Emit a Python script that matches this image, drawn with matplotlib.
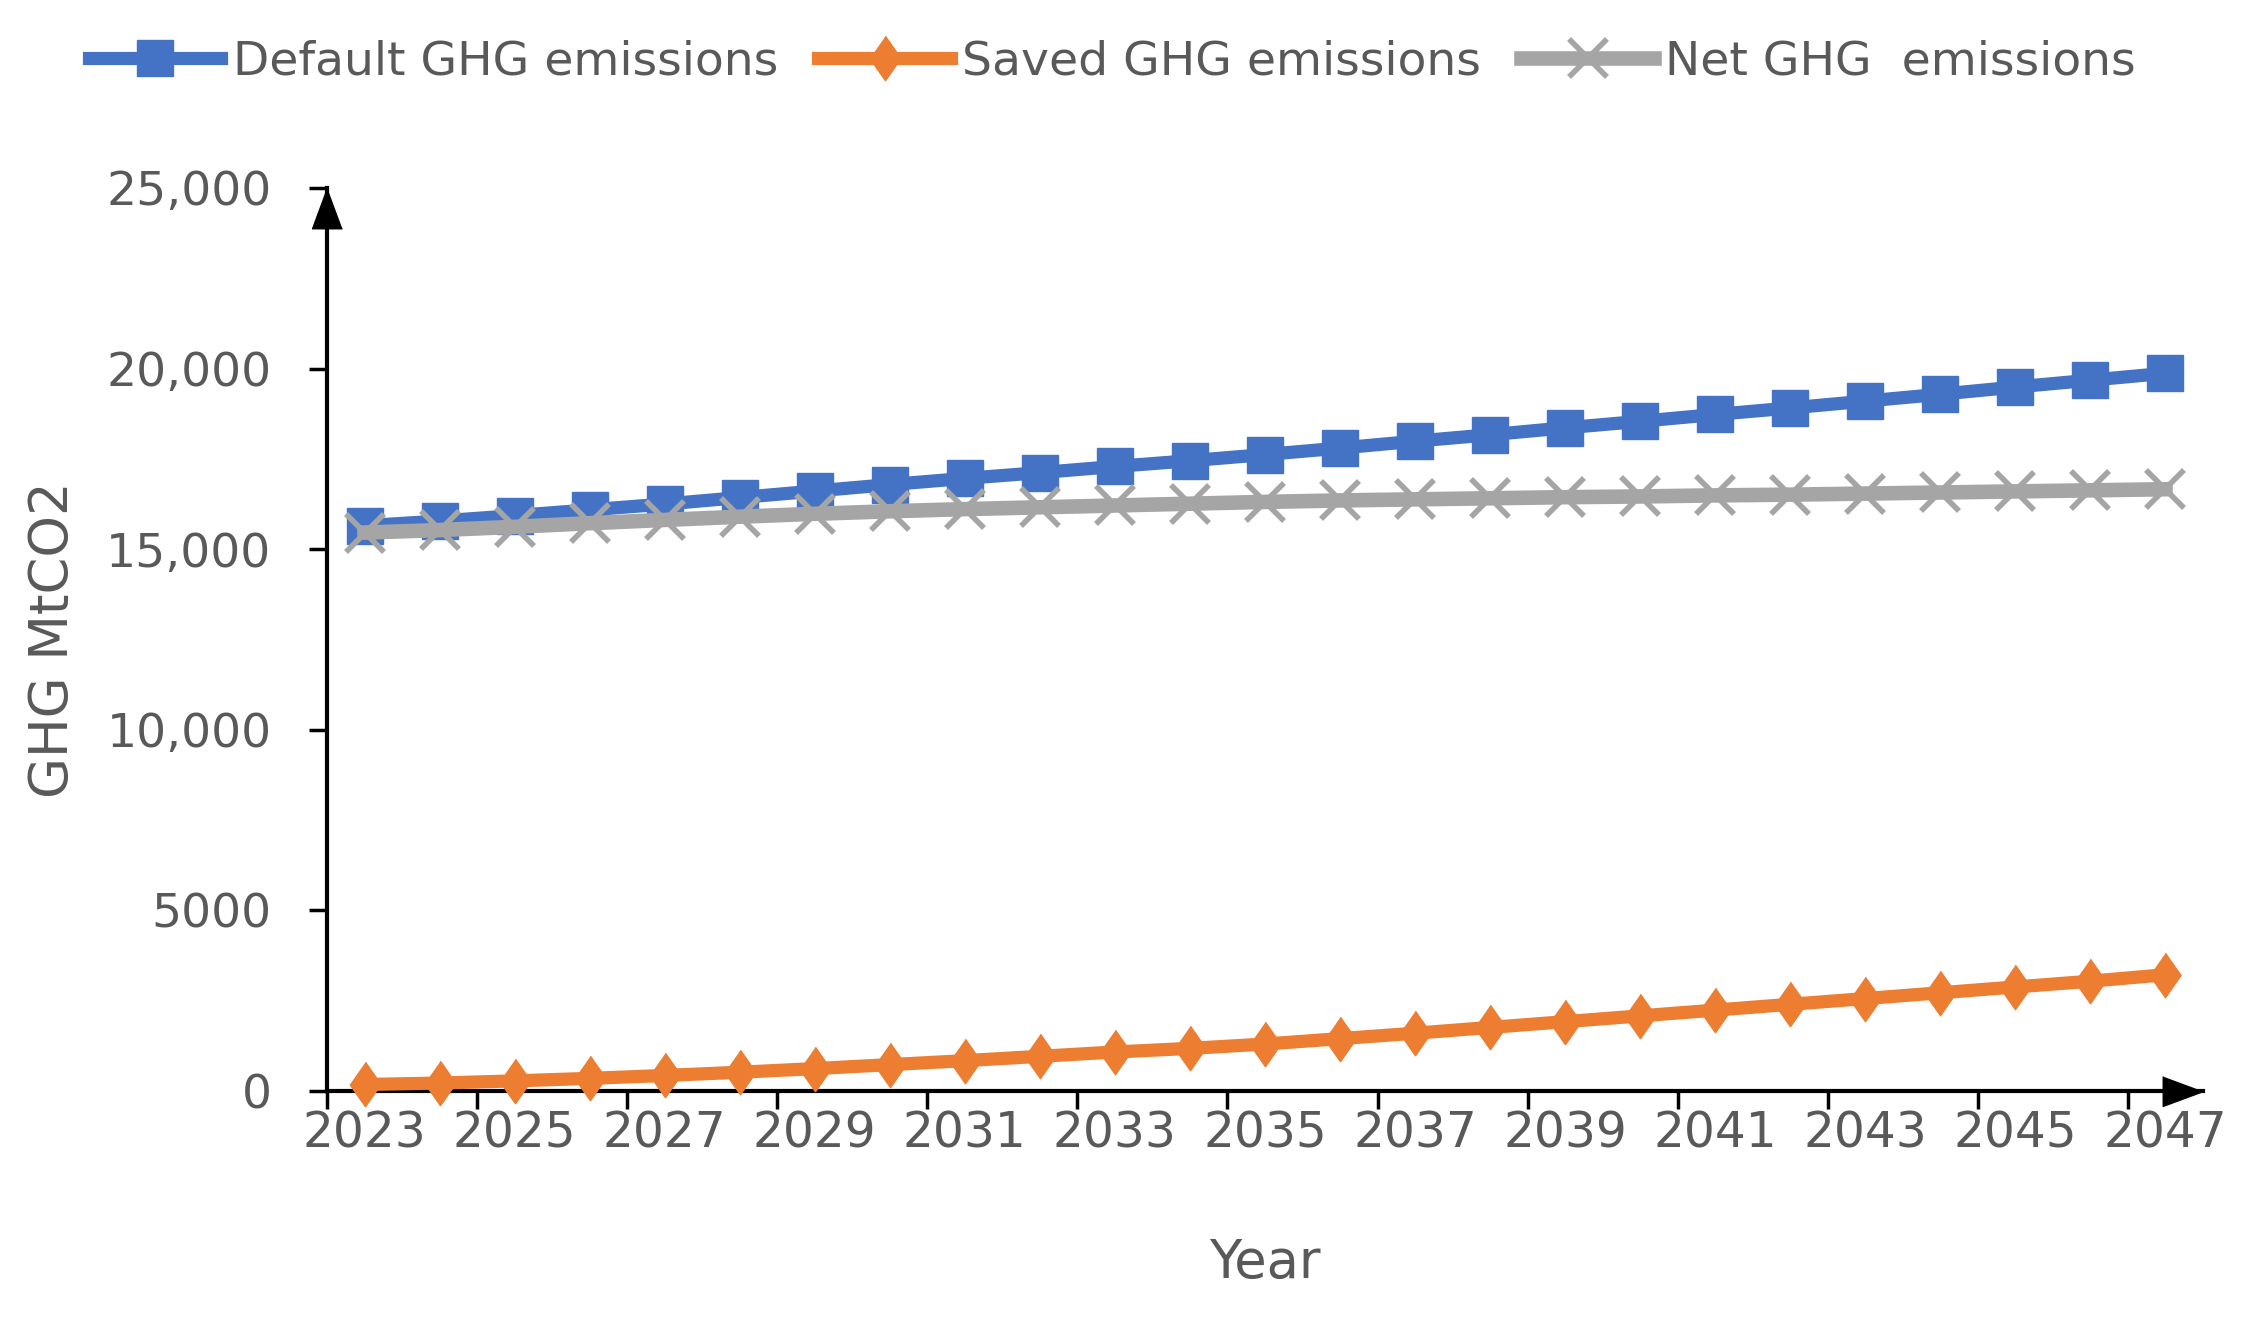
import matplotlib
matplotlib.use('Agg')
import matplotlib.pyplot as plt
import numpy as np

years = list(range(2023, 2048))
default_ghg = [15650, 15780, 15930, 16090, 16250, 16430, 16610, 16790, 16960, 17120,
               17290, 17450, 17620, 17800, 17990, 18170, 18360, 18540, 18730, 18910,
               19100, 19290, 19490, 19680, 19870]
saved_ghg = [180, 220, 280, 350, 430, 520, 620, 730, 840, 960,
             1080, 1180, 1300, 1450, 1600, 1760, 1920, 2080, 2240, 2400,
             2560, 2720, 2880, 3040, 3220]
net_ghg = [15460, 15530, 15620, 15720, 15810, 15900, 15980, 16050, 16110, 16160,
           16210, 16260, 16310, 16350, 16380, 16410, 16440, 16460, 16490, 16510,
           16540, 16570, 16600, 16630, 16660]
ytick_vals = [0, 5000, 10000, 15000, 20000, 25000]
ytick_labels = ['0', '5000', '10,000', '15,000', '20,000', '25,000']

blue = '#4472C4'
orange = '#ED7D31'
gray = '#A5A5A5'
txt = '#595959'

plt.rcParams['font.family'] = ['DejaVu Sans']

W, H = 2248, 1323
fig = plt.figure(figsize=(W / 100, H / 100), dpi=100)
ax = fig.add_axes([327 / W, 232 / H, (2203 - 327) / W, (1091 - 188) / H])

x = np.arange(len(years)) + 0.5
lw = 9.5
ax.plot(x, default_ghg, color=blue, lw=lw, marker='s', ms=26,
        label='Default GHG emissions', zorder=3, clip_on=False)
diamond = [(0, 1), (0.7, 0), (0, -1), (-0.7, 0)]
ax.plot(x, saved_ghg, color=orange, lw=lw, marker=diamond, ms=32,
        label='Saved GHG emissions', zorder=4, clip_on=False)
ax.plot(x, net_ghg, color=gray, lw=10.5, marker='x', ms=28, mew=4,
        label='Net GHG  emissions', zorder=5, clip_on=False)

ax.set_xlim(0, len(years))
ax.set_ylim(0, 25000)

ax.spines['top'].set_visible(False)
ax.spines['right'].set_visible(False)
for s in ('left', 'bottom'):
    ax.spines[s].set_linewidth(3)
    ax.spines[s].set_color('black')

# arrow heads on the axes
ax.plot(len(years), 0, marker=[(0, 0), (-1.35, -0.5), (-1.35, 0.5)], ms=58,
        color='black', clip_on=False, zorder=6)
ax.plot(0, 25000, marker=[(0, 0), (-0.5, -1.35), (0.5, -1.35)], ms=58,
        color='black', clip_on=False, zorder=6)

ax.set_xticks(np.arange(0, len(years), 2))
ax.set_xticks(x[::2], minor=True)
ax.set_xticklabels([])
ax.set_xticklabels([str(y) for y in years[::2]], minor=True)
ax.tick_params(axis='x', which='major', length=13, width=2.5, direction='out', color='black')
ax.tick_params(axis='x', which='minor', length=0, pad=13, labelsize=35, labelcolor=txt)

ax.set_yticks(ytick_vals)
ax.set_yticklabels(ytick_labels)
ax.tick_params(axis='y', length=13, width=2.5, direction='out', color='black',
               pad=27, labelsize=34, labelcolor=txt)

ax.set_ylabel('GHG MtCO2', fontsize=38, color=txt)
ax.yaxis.label.set_va('center')
ax.yaxis.set_label_coords(-0.146, 0.5)
ax.set_xlabel('Year', fontsize=38, color=txt)
ax.xaxis.label.set_va('center')
ax.xaxis.set_label_coords(0.5, -0.19)

fig.legend(loc='center left', bbox_to_anchor=(89 / W, 1 - 62 / H), ncol=3,
           frameon=False, fontsize=34, handlelength=2.8, handletextpad=0.25,
           columnspacing=0.85, borderpad=0, borderaxespad=0, labelcolor=txt)

fig.savefig('out.png', dpi=100, facecolor='white')
